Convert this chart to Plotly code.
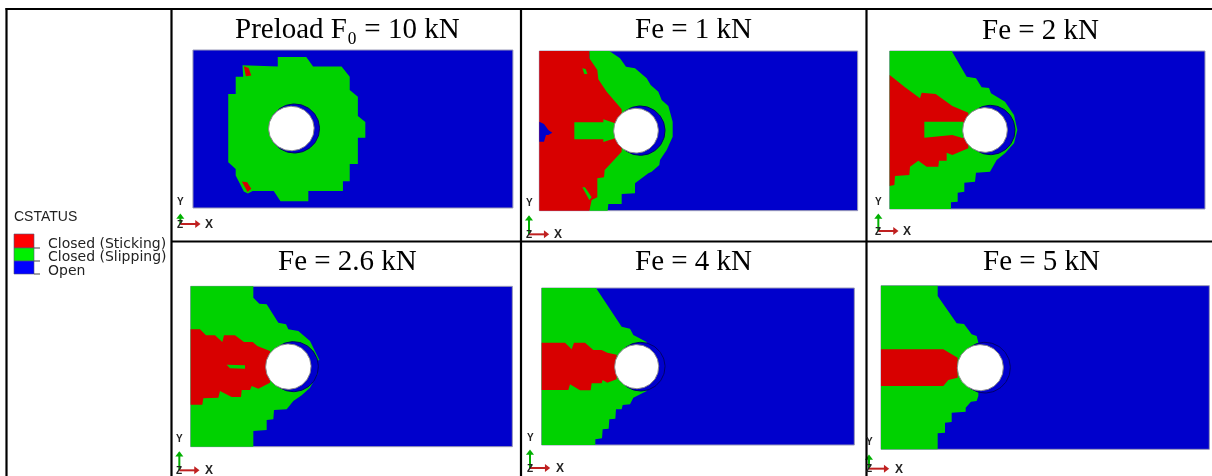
import numpy as np
import plotly.graph_objects as go

W, H = 1212, 476
BLUE, GREEN, RED = "#0000CC", "#00D200", "#D80000"

TITLES = ["Preload F₀ = 10 kN", "Fe = 1 kN", "Fe = 2 kN", "Fe = 2.6 kN", "Fe = 4 kN", "Fe = 5 kN"]
TITLE_POS = [(347, 28), (693, 28), (1040, 29), (347, 260), (693, 260), (1041, 260)]

# All panel outlines below at 3x, relative to each panel's crop origin.
ORIGINS = [(0, 0), (520, 0), (865, 0), (170, 236), (520, 236), (865, 236)]
SCALES = [(0.3393, 0.3312), (1/3, 1/3), (1/3, 1/3), (1/3, 1/3), (1/3, 1/3), (1/3, 1/3)]
SHIFTS = [(-1.8, 0), (520, 0), (865, 0), (170, 236), (520, 236), (865, 236)]
PLATES = [(574, 1517, 151, 628), (58, 1013, 153, 632), (74, 1020, 153, 627),
          (62, 1027, 151, 632), (65, 1003, 156, 627), (48, 1033, 149, 640)]
HOLES = [(864, 388, 67), (348, 392, 67), (360, 390, 67), (355, 392, 68), (350, 392, 66), (346, 395, 69)]
GAPS = [(873, 388, 74), (361, 392, 74), (376, 390, 74), (370, 392, 75), (362, 392, 73), (360, 395, 76)]

GREEN_1 = [(824,172),(908,172),(928,201),(1012,201),(1036,232),(1036,272),(1060,292),(1060,350),(1082,368),(1082,416),(1060,416),(1060,495),(1036,495),(1036,547),(1016,547),(1016,577),(914,577),(914,608),(832,608),(812,577),(750,577),(736,584),(724,578),(700,530),(700,510),(678,490),(678,284),(700,284),(700,232),(722,232),(720,197),(824,201)]
GREEN_2 = [(208,153),(268,153),(300,175),(318,200),(345,205),(380,235),(392,255),(415,275),(425,300),(445,318),(458,365),(458,410),(440,450),(420,480),(418,495),(395,515),(385,520),(345,550),(345,580),(305,582),(305,612),(265,612),(263,632),(208,632)]
GREEN_3 = [(74,153),(260,153),(305,230),(333,235),(350,262),(372,264),(378,280),(420,305),(447,345),(457,390),(447,430),(420,460),(395,480),(375,515),(333,518),(330,545),(298,548),(298,575),(278,578),(278,605),(258,607),(258,627),(74,627)]
GREEN_4 = [(62,151),(250,151),(250,185),(268,203),(290,205),(325,260),(348,265),(355,280),(385,285),(420,315),(448,372),(425,380),(425,405),(445,410),(420,455),(395,478),(370,495),(350,520),(312,522),(310,550),(290,552),(290,582),(250,585),(250,632),(62,632)]
GREEN_5 = [(65,156),(228,156),(305,272),(330,278),(340,297),(380,318),(380,465),(340,485),(330,505),(308,507),(305,520),(288,520),(286,548),(268,550),(266,578),(248,580),(246,607),(226,610),(226,627),(65,627)]
GREEN_6 = [(48,149),(218,149),(218,180),(275,262),(297,264),(320,295),(335,300),(340,320),(340,480),(335,495),(318,497),(302,515),(302,527),(260,530),(260,558),(240,560),(240,590),(218,592),(218,640),(48,640)]

RED_1 = [[(724,200),(738,205),(746,228),(730,230)], [(718,548),(734,550),(746,570),(735,580)]]
RED_2 = [[(58,153),(208,153),(208,175),(232,210),(235,238),(260,275),(305,328),(305,455),(254,510),(252,532),(232,535),(232,592),(215,600),(208,632),(58,632)]]
RED_3 = [[(74,225),(120,262),(165,295),(170,278),(212,282),(262,318),(310,338),(310,445),(262,465),(245,458),(245,482),(222,482),(220,500),(185,500),(160,482),(135,500),(133,525),(90,528),(88,555),(74,558)]]
RED_4 = [[(62,280),(90,280),(108,298),(135,298),(157,318),(162,298),(195,298),(222,318),(248,318),(262,330),(300,345),(300,440),(265,458),(245,450),(240,462),(215,462),(213,483),(185,483),(150,465),(145,485),(100,487),(97,506),(62,506)]]
RED_5 = [[(65,320),(135,320),(155,340),(162,320),(195,320),(220,342),(245,342),(262,350),(290,356),(290,430),(262,440),(248,432),(245,442),(215,442),(212,463),(180,463),(150,445),(145,462),(65,462)]]
RED_6 = [[(48,340),(235,340),(278,365),(278,425),(250,432),(235,450),(48,450)]]

ISLES_1 = []
ISLES_2 = [[(163,367),(250,367),(250,358),(285,370),(285,415),(250,426),(250,418),(163,418)], [(187,205),(197,207),(202,222),(193,222)], [(187,562),(195,562),(215,592),(208,600)]]
ISLES_3 = [[(178,365),(265,365),(295,365),(295,415),(262,405),(178,413)]]
ISLES_4 = [[(170,386),(225,388),(225,398),(180,397)]]
ISLES_5 = []
ISLES_6 = []
NOTCH_2 = [(58,365),(72,372),(85,390),(97,398),(85,405),(78,405),(72,425),(58,425)]

GREENS = [GREEN_1, GREEN_2, GREEN_3, GREEN_4, GREEN_5, GREEN_6]
REDS = [RED_1, RED_2, RED_3, RED_4, RED_5, RED_6]
ISLES = [ISLES_1, ISLES_2, ISLES_3, ISLES_4, ISLES_5, ISLES_6]

# triad: origin x, origin y, top of y arrow, x label x, y label y
TRIADS = [(541,672,645,628,605), (27,703,650,115,607), (40,693,645,127,603),
          (28,703,650,118,607), (30,696,645,120,605), (12,698,660,103,617)]

LEGEND_NAMES = ["Closed (Sticking)", "Closed (Slipping)", "Open"]
LEGEND_COLORS = ["#FF0000", "#00F000", "#0000FF"]
LEGEND_EDGES = [234, 248, 261, 274]
LEGEND_TEXT_Y = [243, 256, 270]

RULES_V = [6.5, 171.5, 521, 866.5]
RULES_H = [(5.5, 9), (171, 241.5)]

fig = go.Figure()

def poly(pts, ox, oy, sx, sy, color, line=None, lw=0):
    pts = list(pts) + [pts[0]]
    fig.add_trace(go.Scatter(x=[ox + p[0] * sx for p in pts], y=[oy + p[1] * sy for p in pts],
                             mode="lines", fill="toself", fillcolor=color,
                             line=dict(color=line or color, width=lw), hoverinfo="skip", showlegend=False))

def circle(cx, cy, r, ox, oy, sx, sy, color, line, lw):
    t = np.linspace(0, 2 * np.pi, 121)
    poly(list(zip(cx + r * np.cos(t), cy + r * np.sin(t))), ox, oy, sx, sy, color, line, lw)

def seg(xs, ys, color, width):
    fig.add_trace(go.Scatter(x=xs, y=ys, mode="lines", line=dict(color=color, width=width),
                             hoverinfo="skip", showlegend=False))

def label(x, y, text, size, family, color="#000000", weight=400):
    fig.add_annotation(x=x, y=y, text=text, showarrow=False,
                       font=dict(size=size, family=family, color=color, weight=weight),
                       xanchor="center", yanchor="middle")

for i, (ox, oy) in enumerate(ORIGINS):
    sh = SHIFTS[i]
    sc = SCALES[i]
    x0, x1, y0, y1 = PLATES[i]
    poly([(x0, y0), (x1, y0), (x1, y1), (x0, y1)], *sh, *sc, BLUE, "#9A9AB8", 1)
    poly(GREENS[i], *sh, *sc, GREEN)
    for r in REDS[i]:
        poly(r, *sh, *sc, RED)
    for g in ISLES[i]:
        poly(g, *sh, *sc, GREEN)
    if i == 1:
        poly(NOTCH_2, *sh, *sc, BLUE)
    circle(*GAPS[i], *sh, *sc, BLUE, "#00006A", 1)
    circle(*HOLES[i], *sh, *sc, "#FFFFFF", "#8A8A8A", 1)
    tx, ty, top, lx, ly = TRIADS[i]
    seg([ox + tx / 3, ox + tx / 3], [oy + ty / 3, oy + top / 3], "#00B000", 2)
    seg([ox + tx / 3, ox + (tx + 50) / 3], [oy + ty / 3, oy + ty / 3], "#C02020", 2)
    fig.add_trace(go.Scatter(x=[ox + tx / 3], y=[oy + (top + 6) / 3], mode="markers",
                             marker=dict(symbol="triangle-up", size=7, color="#00B000"),
                             hoverinfo="skip", showlegend=False))
    fig.add_trace(go.Scatter(x=[ox + (tx + 50) / 3], y=[oy + ty / 3], mode="markers",
                             marker=dict(symbol="triangle-right", size=7, color="#C02020"),
                             hoverinfo="skip", showlegend=False))
    label(ox + tx / 3, oy + ly / 3, "Y", 10, "Liberation Sans", "#222222", 700)
    label(ox + tx / 3, oy + ty / 3, "Z", 10, "Liberation Sans", "#222222", 700)
    label(ox + lx / 3, oy + ty / 3, "X", 12, "Liberation Sans", "#222222", 700)
    label(TITLE_POS[i][0], TITLE_POS[i][1], TITLES[i], 29, "Liberation Serif")

# legend block
for k, name in enumerate(LEGEND_NAMES):
    poly([(14, LEGEND_EDGES[k]), (34, LEGEND_EDGES[k]), (34, LEGEND_EDGES[k + 1]), (14, LEGEND_EDGES[k + 1])],
         0, 0, 1, 1, LEGEND_COLORS[k], "#555577", 0.6)
    seg([34, 40], [LEGEND_EDGES[k + 1], LEGEND_EDGES[k + 1]], "#444444", 1)
    fig.add_annotation(x=46, y=LEGEND_TEXT_Y[k], text=name, showarrow=False, xanchor="left", yanchor="middle",
                       font=dict(size=14, family="DejaVu Sans", color="#222222"))
fig.add_annotation(x=12, y=216, text="CSTATUS", showarrow=False, xanchor="left", yanchor="middle",
                   font=dict(size=14, family="Liberation Sans", color="#222222"))

# table rules
shapes = [dict(type="line", xref="x", yref="y", x0=v, x1=v, y0=8, y1=H, line=dict(color="#000000", width=2.2))
          for v in RULES_V]
shapes += [dict(type="line", xref="x", yref="y", x0=x, x1=W, y0=y, y1=y, line=dict(color="#000000", width=2.2))
           for x, y in RULES_H]

fig.update_layout(width=W, height=H, margin=dict(l=0, r=0, t=0, b=0), showlegend=False,
                  paper_bgcolor="#FFFFFF", plot_bgcolor="#FFFFFF", shapes=shapes,
                  xaxis=dict(range=[0, W], visible=False, fixedrange=True),
                  yaxis=dict(range=[H, 0], visible=False, fixedrange=True))
fig.write_html("out.html", config={"displayModeBar": False},
               post_script="document.body.style.margin='0';document.body.style.overflow='hidden';"
                           "document.querySelectorAll('.cartesianlayer').forEach(e=>e.style.filter='blur(0.7px)');")
